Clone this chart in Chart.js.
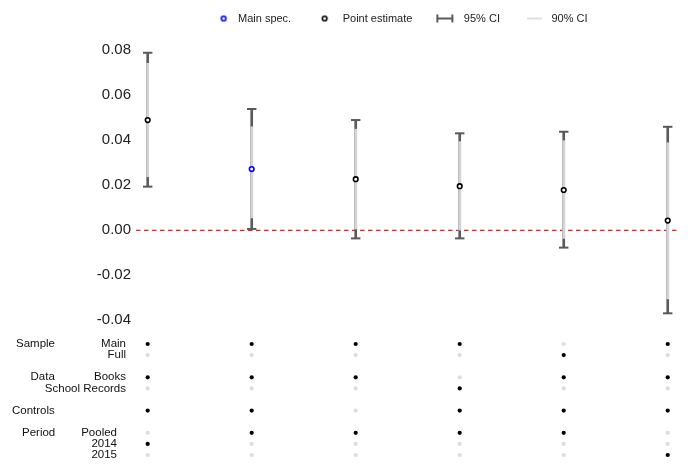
<!DOCTYPE html>
<html><head><meta charset="utf-8">
<script src="https://cdn.jsdelivr.net/npm/chart.js@4.4.1/dist/chart.umd.min.js"></script>
<style>html,body{margin:0;padding:0;background:#fff;}#wrap{width:694px;height:464px;}</style>
</head><body><div id="wrap"><canvas id="c" width="694" height="464"></canvas></div>
<script>
// ---- data ----
const specs = [1, 2, 3, 4, 5, 6];
const mainSpecIndex = 1;
const estimate = [0.0490, 0.0272, 0.0227, 0.0196, 0.0179, 0.0043];
const ci95Low  = [0.0194, 0.0006, -0.0036, -0.0036, -0.0077, -0.0369];
const ci95High = [0.0789, 0.0539, 0.0490, 0.0431, 0.0438, 0.0460];
const ci90Low  = [0.0238, 0.0055, 0.0006, 0.0001, -0.0036, -0.0305];
const ci90High = [0.0742, 0.0460, 0.0449, 0.0394, 0.0398, 0.0389];
const yTicks = [0.08, 0.06, 0.04, 0.02, 0.00, -0.02, -0.04];

// specification panel
const sampleMain   = [1, 1, 1, 1, 0, 1];
const sampleFull   = [0, 0, 0, 0, 1, 0];
const dataBooks    = [1, 1, 1, 0, 1, 1];
const dataSchool   = [0, 0, 0, 1, 0, 0];
const controls     = [1, 1, 0, 1, 1, 1];
const periodPooled = [0, 1, 1, 1, 1, 0];
const period2014   = [1, 0, 0, 0, 0, 0];
const period2015   = [0, 0, 0, 0, 0, 1];
const specRows   = [sampleMain, sampleFull, dataBooks, dataSchool, controls, periodPooled, period2014, period2015];
const rowNames   = ['Main', 'Full', 'Books', 'School Records', '', 'Pooled', '2014', '2015'];
const groupNames = ['Sample', '', 'Data', '', 'Controls', 'Period', '', ''];
const rowSlots   = [0, 1, 3, 4, 6, 8, 9, 10];
const legendNames = ['Main spec.', 'Point estimate', '95% CI', '90% CI'];

// ---- styling ----
const FONT = 'Liberation Sans, Arial, sans-serif';
const DARK = '#5a5a5a', LIGHT = '#d4d4d4';
const xMin = 0.8875, xMax = 6.118;

function icon(kind, off) {
  const c = document.createElement('canvas');
  c.width = 34; c.height = 12;
  const g = c.getContext('2d');
  const cx = 17 + off, cy = 6;
  if (kind === 'blue' || kind === 'black') {
    g.beginPath(); g.arc(cx, cy, 2.3, 0, Math.PI * 2);
    g.fillStyle = '#fff'; g.fill();
    g.lineWidth = 1.6; g.strokeStyle = kind === 'blue' ? '#0000ff' : '#000'; g.stroke();
  } else if (kind === 'ci95') {
    g.strokeStyle = DARK; g.lineWidth = 2;
    g.beginPath(); g.moveTo(cx - 8.5, cy); g.lineTo(cx + 8.5, cy);
    g.moveTo(cx - 7.5, cy - 4); g.lineTo(cx - 7.5, cy + 4);
    g.moveTo(cx + 7.5, cy - 4); g.lineTo(cx + 7.5, cy + 4); g.stroke();
  } else {
    g.strokeStyle = '#e0e0e0'; g.lineWidth = 2;
    g.beginPath(); g.moveTo(cx - 7.5, cy); g.lineTo(cx + 7.5, cy); g.stroke();
  }
  return c;
}
const icons = [icon('blue', 2.2), icon('black', -1.5), icon('ci95', -2.5), icon('ci90', -0.5)];

// ---- datasets ----
const mainPts = specs.filter((s, i) => i === mainSpecIndex).map(s => ({x: s, y: estimate[s - 1]}));
const otherPts = specs.filter((s, i) => i !== mainSpecIndex).map(s => ({x: s, y: estimate[s - 1]}));
const caps = specs.map((s, i) => ({x: s, y: ci95Low[i]})).concat(specs.map((s, i) => ({x: s, y: ci95High[i]})));
const on = [], off = [];
specRows.forEach((row, r) => row.forEach((v, j) => (v ? on : off).push({x: specs[j], y: rowSlots[r]})));

const rowLabelPlugin = {
  id: 'rowLabels',
  afterDraw(chart) {
    const ctx = chart.ctx, s = chart.scales.y2;
    ctx.save();
    ctx.font = '11.5px ' + FONT;
    ctx.fillStyle = '#111';
    ctx.textBaseline = 'middle';
    const groupX = {Sample: 16, Data: 30.5, Controls: 12, Period: 22};
    rowSlots.forEach((slot, r) => {
      const y = s.getPixelForValue(slot);
      if (groupNames[r]) { ctx.textAlign = 'left'; ctx.fillText(groupNames[r], groupX[groupNames[r]], y); }
      if (rowNames[r]) {
        ctx.textAlign = 'right';
        ctx.fillText(rowNames[r], r >= 5 ? 117 : 126, y);
      }
    });
    ctx.restore();
  }
};
const legendShift = {
  id: 'legendShift',
  afterLayout(chart) {
    const l = chart.legend; if (!l) return;
    l.left -= 9; l.right -= 9; l.top -= 11; l.bottom -= 11;
  }
};

new Chart(document.getElementById('c'), {
  type: 'scatter',
  data: {
    datasets: [
      {label: 'Main spec.', data: mainPts, yAxisID: 'y', pointStyle: 'circle', pointRadius: 2.3, pointBorderWidth: 1.6, pointBackgroundColor: '#fff', pointBorderColor: '#0000ff'},
      {label: 'Point estimate', data: otherPts, yAxisID: 'y', pointStyle: 'circle', pointRadius: 2.3, pointBorderWidth: 1.6, pointBackgroundColor: '#fff', pointBorderColor: '#000'},
      {label: 'caps', data: caps, yAxisID: 'y', pointStyle: 'line', pointRadius: 4.7, pointBorderWidth: 2, pointBorderColor: DARK},
      {type: 'bar', label: '90% CI', data: specs.map((s, i) => ({x: s, y: [ci90Low[i], ci90High[i]]})), yAxisID: 'y', backgroundColor: LIGHT, barThickness: 2, grouped: false, borderWidth: 0},
      {type: 'bar', label: '95% CI', data: specs.map((s, i) => ({x: s, y: [ci95Low[i], ci95High[i]]})), yAxisID: 'y', backgroundColor: DARK, barThickness: 2, grouped: false, borderWidth: 0},
      {type: 'line', label: 'zero', data: [{x: xMin, y: 0}, {x: xMax, y: 0}], yAxisID: 'y', borderColor: '#ff1a1a', borderWidth: 1.3, borderDash: [4.5, 3.5], pointRadius: 0, fill: false},
      {label: 'included', data: on, yAxisID: 'y2', pointRadius: 2.1, pointBorderWidth: 0, pointBackgroundColor: '#000'},
      {label: 'excluded', data: off, yAxisID: 'y2', pointRadius: 2.1, pointBorderWidth: 0, pointBackgroundColor: '#dedede'}
    ]
  },
  options: {
    responsive: false,
    devicePixelRatio: 1,
    animation: false,
    events: [],
    layout: {autoPadding: false, padding: {left: 0, right: 14, top: 0, bottom: 0}},
    plugins: {
      tooltip: {enabled: false},
      legend: {
        position: 'top', fullSize: false, align: 'center',
        onClick: () => {},
        labels: {
          usePointStyle: true, pointStyleWidth: 22, padding: 24, color: '#222',
          font: {family: FONT, size: 11},
          generateLabels: () => legendNames.map((t, i) => ({text: t, pointStyle: icons[i], fillStyle: 'rgba(0,0,0,0)', strokeStyle: 'rgba(0,0,0,0)', lineWidth: 0, hidden: false, fontColor: '#222'}))
        }
      }
    },
    scales: {
      x: {type: 'linear', min: xMin, max: xMax, display: false, offset: false},
      y: {
        type: 'linear', position: 'left', stack: 'panel', stackWeight: 286, weight: 2,
        min: -0.04476, max: 0.082356, offset: false,
        grid: {display: false, drawTicks: false}, border: {display: false},
        ticks: {padding: 5, color: '#222', font: {family: FONT, size: 15}, callback: v => Number(v).toFixed(2)},
        afterBuildTicks: s => { s.ticks = yTicks.map(v => ({value: v})); },
        afterFit: s => { s.width = 136; s.paddingTop = 0; s.paddingBottom = 0; }
      },
      y2: {
        type: 'linear', position: 'left', stack: 'panel', stackWeight: 133, weight: 1,
        reverse: true, min: -1.17, max: 10.81, offset: false,
        grid: {display: false, drawTicks: false}, border: {display: false}, ticks: {display: false},
        afterFit: s => { s.width = 0; s.paddingTop = 0; s.paddingBottom = 0; }
      }
    }
  },
  plugins: [rowLabelPlugin, legendShift]
});
</script></body></html>
